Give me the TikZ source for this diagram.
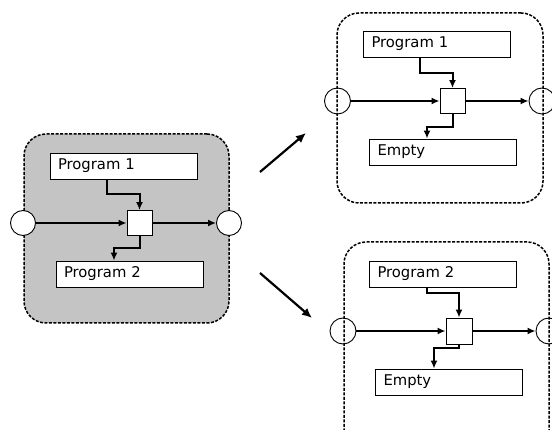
\documentclass[tikz,border=0pt]{standalone}
\usepackage{fontspec}
\setmainfont{DejaVu Sans}
\usetikzlibrary{arrows.meta}
\definecolor{panelgray}{RGB}{196,196,196}
\begin{document}
\begin{tikzpicture}[x=1pt,y=-1pt,
  panel/.style={draw=black, line width=1.5pt, dash pattern=on 3pt off 1.5pt, rounded corners=22pt},
  pbox/.style={draw=black, fill=white, line width=0.9pt, minimum width=147pt, minimum height=26pt,
    text width=131pt, inner xsep=8pt, inner ysep=0pt, align=left, font=\fontsize{14.8}{16}\selectfont,
    text height=11pt, text depth=3pt},
  sq/.style={draw=black, fill=white, line width=0.9pt, minimum size=25pt, inner sep=0pt},
  port/.style={circle, draw=black, fill=white, line width=0.9pt, minimum size=26pt, inner sep=0pt},
  flow/.style={line width=2pt, -{Latex[length=8pt,width=7pt]}},
  bigarrow/.style={line width=2.2pt, -{Latex[length=10pt,width=9pt]}}
]
\useasboundingbox (0,0) rectangle (552,430);
\clip (0,0) rectangle (552,430);

% ---------- left panel ----------
\node[panel, fill=panelgray, minimum width=205pt, minimum height=189pt] (L) at (126.5,228.5) {};
\node[pbox] (Lp1) at (123.5,166) {Program 1};
\node[pbox] (Lp2) at (129.5,274) {Program 2};
\node[sq] (Ls) at (139.5,223) {};
\node[port, minimum size=25pt] (Lin) at (23,223) {};
\node[port, minimum size=25pt] (Lout) at (229,223) {};
\coordinate (La) at (107,194);
\coordinate (Lb) at (114,248);
\draw[flow] (Lin) -- (Ls);
\draw[flow] (Ls) -- (Lout);
\draw[flow] (Lp1.south -| La) -- (La) -| (Ls.north);
\draw[flow] (Ls.south) |- (Lb) -- (Lp2.north -| Lb);

% ---------- top-right panel ----------
\node[port] (Tin) at (337.5,101) {};
\node[port] (Tout) at (542,101) {};
\node[panel, minimum width=206pt, minimum height=190pt] (T) at (440,108) {};
\node[pbox] (Tp1) at (437,44) {Program 1};
\node[pbox] (Te) at (443,152) {Empty};
\node[sq] (Ts) at (452.5,101) {};
\coordinate (Ta) at (420,73);
\coordinate (Tb) at (427,127);
\draw[flow] (Tin) -- (Ts);
\draw[flow] (Ts) -- (Tout);
\draw[flow] (Tp1.south -| Ta) -- (Ta) -| (Ts.north);
\draw[flow] (Ts.south) |- (Tb) -- (Te.north -| Tb);

% ---------- bottom-right panel ----------
\node[port] (Bin) at (343,331) {};
\node[port] (Bout) at (549,331) {};
\node[panel, minimum width=205pt, minimum height=210pt] (B) at (446.5,347) {};
\node[pbox] (Bp2) at (443,274) {Program 2};
\node[pbox] (Be) at (449,382) {Empty};
\node[sq, minimum size=26pt] (Bs) at (459,331) {};
\coordinate (Ba) at (426.5,293);
\coordinate (Bb) at (434,348);
\draw[flow] (Bin) -- (Bs);
\draw[flow] (Bs) -- (Bout);
\draw[flow] (Bp2.south -| Ba) -- (Ba) -| (Bs.north);
\draw[flow] (Bs.south) |- (Bb) -- (Be.north -| Bb);

% ---------- transition arrows ----------
\coordinate (u1) at (260,172);
\coordinate (u2) at (306,133);
\coordinate (d1) at (260,273);
\coordinate (d2) at (312,318);
\draw[bigarrow] (u1) -- (u2);
\draw[bigarrow] (d1) -- (d2);
\end{tikzpicture}
\end{document}
